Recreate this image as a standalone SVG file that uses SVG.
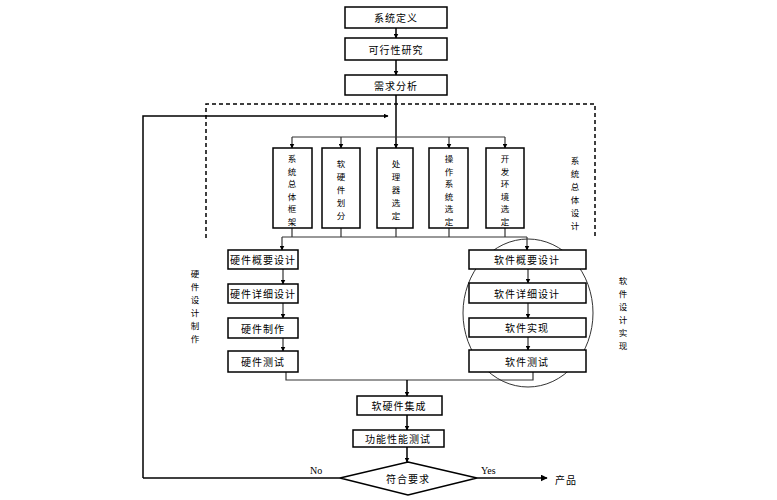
<svg xmlns="http://www.w3.org/2000/svg" width="777" height="500" viewBox="0 0 777 500">
<defs>
<marker id="ah" viewBox="0 0 10 10" refX="9" refY="5" markerWidth="5" markerHeight="5" orient="auto" markerUnits="userSpaceOnUse"><path d="M0,0 L10,5 L0,10 z" fill="#000"/></marker>
<marker id="ah2" viewBox="0 0 10 10" refX="9" refY="5" markerWidth="7" markerHeight="7" orient="auto" markerUnits="userSpaceOnUse"><path d="M0,0 L10,5 L0,10 z" fill="#000"/></marker>
</defs>
<style>
.box{fill:#fff;stroke:#000;stroke-width:1.5}
.t{font-family:"Noto Sans CJK SC","Noto Sans",sans-serif;font-size:10px;fill:#000;text-anchor:middle;dominant-baseline:central;letter-spacing:1px}
.v{font-family:"Noto Sans CJK SC","Noto Sans",sans-serif;font-size:8.5px;fill:#000;text-anchor:middle;dominant-baseline:central}
.lat{font-family:"Liberation Serif",serif;font-size:10px;fill:#000}
.ln{fill:none;stroke:#000;stroke-width:1.5}
.thin{fill:none;stroke:#333;stroke-width:1.2}
.ar{marker-end:url(#ah)}
.dash{fill:none;stroke:#000;stroke-width:1.5;stroke-dasharray:4,3}
</style>
<rect width="777" height="500" fill="#fff"/>
<g id="connectors">
<path class="dash" d="M206,238 V104 H595 V238"/>
<path class="ln ar" d="M396,28 V38"/>
<path class="ln ar" d="M396,60 V75"/>
<path class="ln ar" d="M396,95 V148"/>
<path class="ln" d="M143,478 V116 H388" marker-end="url(#ah)"/>
<path class="thin" d="M292,137 H505"/>
<path class="thin ar" d="M292,137 V148"/>
<path class="thin ar" d="M341,137 V148"/>
<path class="thin ar" d="M449,137 V148"/>
<path class="thin ar" d="M505,137 V148"/>
<path class="thin" d="M292,228 V237 M341,228 V237 M396,228 V237 M449,228 V237 M505,228 V237 M282,237 H527"/>
<path class="thin ar" d="M282,237 V250"/>
<path class="thin ar" d="M527,237 V250"/>
<path class="thin ar" d="M283,269 V284"/>
<path class="thin ar" d="M283,303 V318"/>
<path class="thin ar" d="M283,338 V351"/>
<path class="thin ar" d="M528,269 V283"/>
<path class="thin ar" d="M528,303 V318"/>
<path class="thin ar" d="M528,337 V350"/>
<path class="thin" d="M286,372 V380 H533 V372"/>
<path class="ln ar" d="M407,380 V396"/>
<path class="ln ar" d="M407,415 V430"/>
<path class="ln ar" d="M407,447 V462"/>
<path class="ln" d="M143,478 H340"/>
<path class="ln" d="M477,478 H547" marker-end="url(#ah2)"/>
<ellipse cx="528" cy="313" rx="65" ry="74" fill="none" stroke="#333" stroke-width="1"/>
</g>
<g id="n1"><rect class="box" x="345" y="7" width="102" height="21"/><text class="t" x="396" y="17.5">系统定义</text></g>
<g id="n2"><rect class="box" x="345" y="38" width="102" height="22"/><text class="t" x="396" y="49">可行性研究</text></g>
<g id="n3"><rect class="box" x="345" y="75" width="102" height="20"/><text class="t" x="396" y="85">需求分析</text></g>
<g id="a1"><rect class="box" x="273" y="148" width="39" height="80"/><text class="v" x="292" y="158">系</text><text class="v" x="292" y="170.5">统</text><text class="v" x="292" y="183">总</text><text class="v" x="292" y="195.5">体</text><text class="v" x="292" y="208">框</text><text class="v" x="292" y="220.5">架</text></g>
<g id="a2"><rect class="box" x="322" y="148" width="38" height="80"/><text class="v" x="341" y="163">软</text><text class="v" x="341" y="176">硬</text><text class="v" x="341" y="189">件</text><text class="v" x="341" y="202">划</text><text class="v" x="341" y="215">分</text></g>
<g id="a3"><rect class="box" x="377" y="148" width="36" height="80"/><text class="v" x="396" y="163">处</text><text class="v" x="396" y="176">理</text><text class="v" x="396" y="189">器</text><text class="v" x="396" y="202">选</text><text class="v" x="396" y="215">定</text></g>
<g id="a4"><rect class="box" x="429" y="148" width="39" height="80"/><text class="v" x="449" y="158">操</text><text class="v" x="449" y="170.5">作</text><text class="v" x="449" y="183">系</text><text class="v" x="449" y="195.5">统</text><text class="v" x="449" y="208">选</text><text class="v" x="449" y="220.5">定</text></g>
<g id="a5"><rect class="box" x="486" y="148" width="38" height="80"/><text class="v" x="505" y="158">开</text><text class="v" x="505" y="170.5">发</text><text class="v" x="505" y="183">环</text><text class="v" x="505" y="195.5">境</text><text class="v" x="505" y="208">选</text><text class="v" x="505" y="220.5">定</text></g>
<g id="h1"><rect class="box" x="228" y="250" width="70" height="19"/><text class="t" x="263" y="259.5">硬件概要设计</text></g>
<g id="h2"><rect class="box" x="228" y="284" width="70" height="19"/><text class="t" x="263" y="293.5">硬件详细设计</text></g>
<g id="h3"><rect class="box" x="228" y="318" width="70" height="20"/><text class="t" x="263" y="328">硬件制作</text></g>
<g id="h4"><rect class="box" x="228" y="351" width="70" height="21"/><text class="t" x="263" y="361.5">硬件测试</text></g>
<g id="s1"><rect class="box" x="469" y="250" width="117" height="19"/><text class="t" x="527" y="259.5">软件概要设计</text></g>
<g id="s2"><rect class="box" x="469" y="283" width="117" height="20"/><text class="t" x="527" y="293">软件详细设计</text></g>
<g id="s3"><rect class="box" x="469" y="318" width="117" height="19"/><text class="t" x="527" y="327.5">软件实现</text></g>
<g id="s4"><rect class="box" x="469" y="350" width="117" height="22"/><text class="t" x="527" y="361">软件测试</text></g>
<g id="i1"><rect class="box" x="357" y="396" width="85" height="19"/><text class="t" x="399" y="405.5">软硬件集成</text></g>
<g id="i2"><rect class="box" x="353" y="430" width="91" height="17"/><text class="t" x="398" y="438.5">功能性能测试</text></g>
<g id="d1"><polygon class="box" points="408,462 477,478 408,495 340,478"/><text class="t" x="408" y="478.5">符合要求</text></g>
<g id="labels">
<g id="lab-sys"><text class="v" x="575" y="160">系</text><text class="v" x="575" y="173">统</text><text class="v" x="575" y="186">总</text><text class="v" x="575" y="199">体</text><text class="v" x="575" y="212">设</text><text class="v" x="575" y="225">计</text></g>
<g id="lab-hw"><text class="v" x="195" y="273">硬</text><text class="v" x="195" y="286">件</text><text class="v" x="195" y="299">设</text><text class="v" x="195" y="312">计</text><text class="v" x="195" y="325">制</text><text class="v" x="195" y="338">作</text></g>
<g id="lab-sw"><text class="v" x="623" y="280">软</text><text class="v" x="623" y="293">件</text><text class="v" x="623" y="306">设</text><text class="v" x="623" y="319">计</text><text class="v" x="623" y="332">实</text><text class="v" x="623" y="345">现</text></g>
<text class="lat" x="310" y="474">No</text>
<text class="lat" x="481" y="474">Yes</text>
<text class="t" x="566" y="479">产品</text>
</g>
</svg>
